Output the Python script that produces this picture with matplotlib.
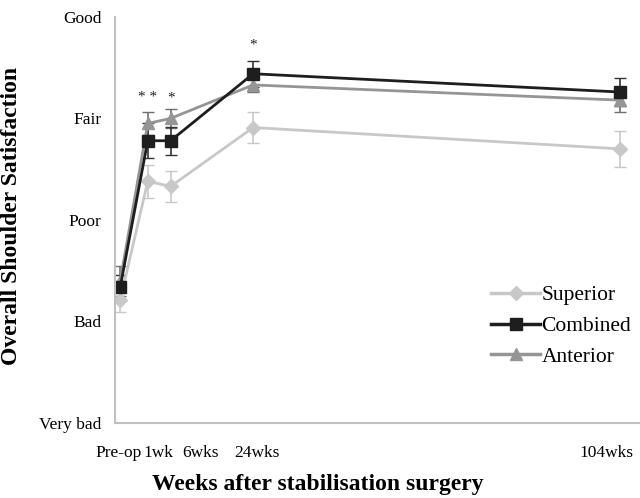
import matplotlib.pyplot as plt
from matplotlib.lines import Line2D

plt.rcParams['font.family'] = ['Liberation Serif', 'DejaVu Serif']

# x position in weeks (pre-op drawn a little before week 0)
weeks = [-5, 1, 6, 24, 104]
tick_labels = ['Pre-op', '1wk', '6wks', '24wks', '104wks']
label_pos = [-5.3, 3.4, 12.5, 24.8, 101]

# satisfaction scale 1 = very bad ... 5 = good
levels = [1, 2, 3, 4, 5]
level_names = ['Very bad', 'Bad', 'Poor', 'Fair', 'Good']

superior = [2.21, 3.38, 3.33, 3.91, 3.70]
superior_err = [0.12, 0.16, 0.15, 0.15, 0.18]
combined = [2.34, 3.78, 3.78, 4.44, 4.26]
combined_err = [0.12, 0.17, 0.14, 0.13, 0.14]
anterior = [2.40, 3.95, 4.00, 4.33, 4.18]
anterior_err = [0.15, 0.11, 0.09, 0.07, 0.12]

sig_x = [1, 6, 24]
sig_y = [4.21, 4.20, 4.72]
sig_txt = ['* *', '*', '*']

fig = plt.figure(figsize=(6.4, 4.98), dpi=100)
ax = fig.add_axes([0.18, 0.151, 0.82, 0.815])

styles = {
    'Superior': dict(color='#c8c8c8', ecolor='#c8c8c8', marker='D', markersize=7),
    'Combined': dict(color='#1e1e1e', ecolor='#333333', marker='s', markersize=8),
    'Anterior': dict(color='#959595', ecolor='#6e6e6e', marker='^', markersize=9),
}

ax.errorbar(weeks, superior, yerr=superior_err, linewidth=2, elinewidth=1.2, capsize=4,
            **styles['Superior'])
ax.errorbar(weeks, anterior, yerr=anterior_err, linewidth=2, elinewidth=1.2, capsize=4,
            **styles['Anterior'])
ax.errorbar(weeks, combined, yerr=combined_err, linewidth=2, elinewidth=1.2, capsize=4,
            **styles['Combined'])

for x, y, t in zip(sig_x, sig_y, sig_txt):
    ax.text(x, y, t, ha='center', va='center', fontsize=11, color='#222222')

ax.set_xlim(-6.1, 108.4)
ax.set_ylim(1, 5)
ax.set_yticks(levels)
ax.set_yticklabels(level_names, fontsize=12.5)
ax.set_xticks(label_pos)
ax.set_xticklabels(tick_labels, fontsize=12.5)
ax.tick_params(length=0, pad=10)
ax.tick_params(axis='x', pad=16)

for s in ['top', 'right']:
    ax.spines[s].set_visible(False)
for s in ['left', 'bottom']:
    ax.spines[s].set_color('#c0c0c0')
    ax.spines[s].set_linewidth(1.5)

ax.set_xlabel('Weeks after stabilisation surgery', fontsize=17, fontweight='bold')
ax.xaxis.set_label_coords(0.387, -0.125)
ax.set_ylabel('Overall Shoulder Satisfaction', fontsize=17, fontweight='bold')
ax.yaxis.set_label_coords(-0.177, 0.51)

handles = []
names = ['Superior', 'Combined', 'Anterior']
for n in names:
    st = styles[n]
    handles.append(Line2D([], [], color=st['color'], marker=st['marker'],
                          markersize=st['markersize'], linewidth=2.5))
ax.legend(handles, names, loc='lower right', bbox_to_anchor=(1.02, 0.09),
          frameon=False, fontsize=15.5, handlelength=2.3, handletextpad=0.05,
          labelspacing=0.5)

fig.savefig('out.png', dpi=100)
